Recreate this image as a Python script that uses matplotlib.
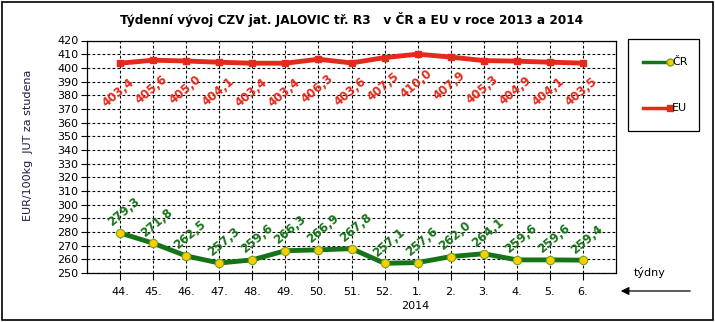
import matplotlib.pyplot as plt
from matplotlib.patches import Rectangle
from matplotlib.lines import Line2D

# weeks (end of 2013 and start of 2014)
weeks = ["44.", "45.", "46.", "47.", "48.", "49.", "50.", "51.", "52.",
         "1.", "2.", "3.", "4.", "5.", "6."]
cr_values = [279.3, 271.8, 262.5, 257.3, 259.6, 266.3, 266.9, 267.8, 257.1,
             257.6, 262.0, 264.1, 259.6, 259.6, 259.4]
eu_values = [403.4, 405.6, 405.0, 404.1, 403.4, 403.4, 406.3, 403.6, 407.5,
             410.0, 407.9, 405.3, 404.9, 404.1, 403.5]
y_ticks = list(range(250, 421, 10))

green = '#177317'
red = '#E42A1C'

plt.rcParams['font.family'] = 'DejaVu Sans'
fig = plt.figure(figsize=(7.15, 3.22), dpi=100)
ax = fig.add_axes([87/715, 1 - 273/322, (616-87)/715, (273-40.5)/322])

x = list(range(1, len(weeks) + 1))
ax.plot(x, eu_values, color=red, lw=3.5, marker='s', ms=5, mfc=red, mec=red, zorder=3)
ax.plot(x, cr_values, color=green, lw=3.5, marker='o', ms=6, mfc='#FFCC00',
        mec='#6FA820', mew=0.8, zorder=3)

def fmt(v):
    return f"{v:.1f}".replace('.', ',')

for xi, v in zip(x, eu_values):
    ax.annotate(fmt(v), (xi, v), xytext=(-1, -21), textcoords='offset points',
                ha='center', va='center', rotation=40, color=red,
                fontsize=8.5, fontweight='bold')
for xi, v in zip(x, cr_values):
    ax.annotate(fmt(v), (xi, v), xytext=(3, 15), textcoords='offset points',
                ha='center', va='center', rotation=40, color=green,
                fontsize=8.5, fontweight='bold')

ax.set_xlim(0, len(weeks) + 1)
ax.set_ylim(250, 420)
ax.set_yticks(y_ticks)
ax.set_xticks(x)
ax.set_xticklabels(weeks, fontsize=8)
ax.tick_params(axis='y', labelsize=8, length=4, direction='out', pad=2)
ax.tick_params(axis='x', length=5, direction='out', pad=5)
ax.grid(True, color='black', linestyle=(0, (2.5, 2)), linewidth=0.8)
for s in ax.spines.values():
    s.set_linewidth(0.9)

ax.set_title("Týdenní vývoj CZV jat. JALOVIC tř. R3   v ČR a EU v roce 2013 a 2014",
             fontsize=8.7, fontweight='bold', pad=12)
fig.text(28/715, 1 - 145/322, "EUR/100kg  JUT za studena", rotation=90,
         ha='center', va='center', fontsize=8, color='#1a1a40')
fig.text(415/715, 1 - 306/322, "2014", ha='center', va='center', fontsize=8)
fig.text(650/715, 1 - 273/322, "týdny", ha='center', va='center', fontsize=8)
fig.add_artist(plt.Annotation('', xy=(618/715, 1 - 291/322), xycoords='figure fraction',
                              xytext=(693/715, 1 - 291/322), textcoords='figure fraction',
                              arrowprops=dict(arrowstyle='-|>', color='black', lw=0.9,
                                              mutation_scale=12)))

# legend box
lx0, ly0, lx1, ly1 = 628, 39, 699, 131
fig.add_artist(Rectangle((lx0/715, 1 - ly1/322), (lx1-lx0)/715, (ly1-ly0)/322,
                         transform=fig.transFigure, fill=False, ec='black', lw=0.9))
fig.add_artist(Line2D([643/715, 670/715], [1 - 62/322] * 2, transform=fig.transFigure,
                      color=green, lw=2.5, marker='o', markevery=[1], ms=5,
                      mfc='#FFCC00', mec='#6FA820'))
fig.add_artist(Line2D([643/715, 670/715], [1 - 108/322] * 2, transform=fig.transFigure,
                      color=red, lw=2.5, marker='s', markevery=[1], ms=4,
                      mfc=red, mec=red))
fig.text(672/715, 1 - 62/322, "ČR", ha='left', va='center', fontsize=8)
fig.text(672/715, 1 - 108/322, "EU", ha='left', va='center', fontsize=8)

# outer frame
fig.add_artist(Rectangle((1.5/715, 2/322), 711/715, 318/322, transform=fig.transFigure,
                         fill=False, ec='black', lw=1.2))

fig.savefig('out.png', dpi=100)
